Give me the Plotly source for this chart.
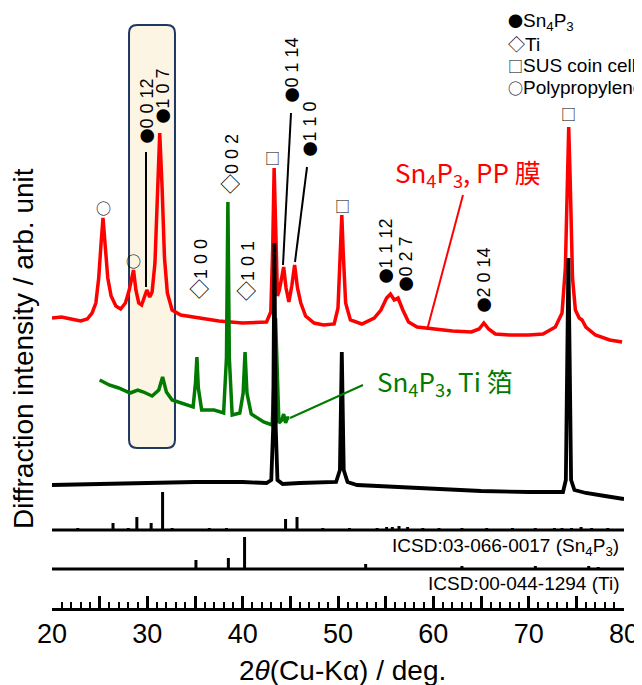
import plotly.graph_objects as go

# ---------------- data (2theta in deg, intensity in arb. unit, offsets included) -------------
red_2theta = [20.0, 21.0, 22.0, 23.0, 23.7, 24.2, 24.6, 24.9, 25.15, 25.35, 25.6, 25.85, 26.2, 26.7,
              27.2, 27.7, 28.1, 28.35, 28.55, 28.8, 29.1, 29.4, 29.7, 29.95, 30.25, 30.5, 30.8, 31.05,
              31.3, 31.55, 31.8, 32.1, 32.6, 33.5, 35.0, 37.5, 40.0, 42.5, 42.95, 43.15, 43.3, 43.45,
              43.65, 43.85, 44.1, 44.3, 44.55, 44.85, 45.15, 45.45, 45.75, 46.1, 46.6, 47.5, 48.5, 49.6,
              50.0, 50.25, 50.4, 50.55, 50.8, 51.3, 52.5, 53.8, 54.5, 55.1, 55.5, 55.9, 56.3, 56.8, 57.4,
              58.3, 60.0, 62.0, 64.0, 64.8, 65.3, 65.8, 66.5, 68.0, 70.0, 71.5, 72.8, 73.5, 73.85, 74.05,
              74.2, 74.35, 74.6, 74.9, 75.3, 75.6, 76.0, 77.0, 78.5, 79.8]
red_int = [290, 291, 289, 287, 289, 295, 305, 330, 365, 390, 360, 330, 312, 302,
           299, 305, 318, 330, 338, 318, 305, 303, 312, 318, 311, 316, 345, 420,
           475, 420, 350, 315, 298, 293, 291, 287, 285, 286, 296, 360, 440, 380,
           312, 318, 330, 341, 320, 306, 322, 343, 320, 305, 292, 285, 283, 284,
           300, 360, 393, 355, 305, 288, 284, 290, 298, 310, 314, 308, 310, 298, 286,
           281, 279, 277, 276, 279, 285, 279, 274, 273, 273, 274, 281, 295, 340, 440,
           481, 430, 330, 298, 290, 288, 281, 273, 268, 266]

green_2theta = [25.0, 26.0, 27.0, 28.2, 29.0, 29.6, 30.5, 31.2, 31.6, 32.0, 32.6, 34.0, 34.8, 35.05,
                35.2, 35.35, 35.7, 37.0, 38.0, 38.3, 38.45, 38.6, 38.9, 39.7, 40.05, 40.25, 40.45,
                40.9, 42.2, 43.1, 43.3, 43.45, 43.6, 43.8, 44.1, 44.3, 44.5, 44.7, 44.9]
green_int = [228, 223, 220, 215, 218, 216, 212, 218, 231, 216, 208, 203, 201, 225,
             251, 220, 198, 198, 195, 250, 406, 250, 193, 195, 215, 256, 215,
             194, 186, 183, 230, 290, 230, 185, 188, 194, 185, 190, 190]

black_2theta = [20.0, 25.0, 30.0, 35.0, 40.0, 42.5, 43.0, 43.2, 43.33, 43.47, 43.65, 44.2, 46.0, 49.8,
                50.2, 50.4, 50.6, 51.0, 52.0, 56.0, 60.0, 65.0, 70.0, 73.6, 73.9, 74.05, 74.17, 74.3,
                74.45, 74.8, 76.0, 78.0, 80.0]
black_int = [123, 124, 125, 126, 126, 125, 128, 180, 365, 180, 128, 124, 125, 126,
             138, 256, 138, 126, 123, 121, 119, 117, 116, 116, 128, 250, 350, 250,
             128, 118, 115, 112, 109]

sn4p3_ref_2theta = [22.7, 26.4, 28.0, 28.9, 30.4, 31.6, 32.6, 36.5, 38.3, 44.5, 45.7, 48.4, 51.2, 54.1,
                    55.1, 55.7, 56.4, 57.3, 58.9, 60.6, 63.0, 65.6, 68.3, 70.7, 72.7, 73.5, 74.5, 75.5,
                    76.6, 78.3]
sn4p3_ref_int = [2, 7, 2, 13, 7, 38, 2, 2, 2, 11, 13, 2, 2, 2,
                 3, 3, 4, 3, 2, 2, 2, 2, 2, 2, 2, 2, 2, 3,
                 2, 2]
ti_ref_2theta = [35.1, 38.5, 40.2, 52.9, 63.0, 70.7, 76.3, 77.3]
ti_ref_int = [9, 11, 32, 5, 3, 3, 3, 2]

SN4P3_BASE = 78
TI_BASE = 39

x_label_vals = [20, 30, 40, 50, 60, 70, 80]
x_mid_vals = [25, 35, 45, 55, 65, 75]

SYM_SIZE = {"●": 15, "○": 15, "□": 15, "◇": 20}


def sym(s, scale=1.0):
    return ("<span style='font-family:Noto Sans CJK JP;font-size:%dpx'>%s</span>"
            % (round(SYM_SIZE[s] * scale), s))


# peak labels: (2theta, bottom position, symbol, hkl)
peak_labels = [
    (29.86, 462, "●", "0 0 12"),
    (31.64, 483, "●", "1 0 7"),
    (35.32, 307, "◇", "1 0 0"),
    (38.57, 412, "◇", "0 0 2"),
    (40.25, 305, "◇", "1 0 1"),
    (45.07, 503, "●", "0 1 14"),
    (47.06, 450, "●", "1 1 0"),
    (54.93, 322, "●", "1 1 12"),
    (57.13, 315, "●", "0 2 7"),
    (65.21, 293, "●", "2 0 14"),
]
symbol_labels = [
    (25.45, 401, "○"), (28.50, 348, "○"),
    (43.18, 451, "□"), (50.42, 403, "□"), (74.13, 495, "□"),
]
legend_items = [("●", "Sn<sub>4</sub>P<sub>3</sub>", 1.0), ("◇", "Ti", 0.85),
                ("□", "SUS coin cell", 1.0), ("○", "Polypropylene", 1.0)]

FONT = "Liberation Sans, Arial, DejaVu Sans, sans-serif"
CJK = "Noto Sans CJK JP, sans-serif"

# 1 axis unit = 1 px: used to place annotations relative to the plot area
PLOT_H = 600


def sticks(pos, h, base):
    xs, ys = [], []
    for p, v in zip(pos, h):
        xs += [p, p, None]
        ys += [base, base + v, None]
    return xs, ys


fig = go.Figure()

fig.add_trace(go.Scatter(x=red_2theta, y=red_int, mode="lines",
                         line=dict(color="#FF0000", width=3.5), hoverinfo="skip"))
fig.add_trace(go.Scatter(x=green_2theta, y=green_int, mode="lines",
                         line=dict(color="#007A00", width=3.5), hoverinfo="skip"))
fig.add_trace(go.Scatter(x=black_2theta, y=black_int, mode="lines",
                         line=dict(color="#000000", width=3.8), hoverinfo="skip"))

sx, sy = sticks(sn4p3_ref_2theta, sn4p3_ref_int, SN4P3_BASE)
fig.add_trace(go.Scatter(x=[20, 80] + [None] + sx, y=[SN4P3_BASE, SN4P3_BASE] + [None] + sy,
                         mode="lines", line=dict(color="black", width=3), hoverinfo="skip"))
tx, ty = sticks(ti_ref_2theta, ti_ref_int, TI_BASE)
fig.add_trace(go.Scatter(x=[20, 80] + [None] + tx, y=[TI_BASE, TI_BASE] + [None] + ty,
                         mode="lines", line=dict(color="black", width=3), hoverinfo="skip"))
# carrier trace for the secondary tick axis (5-degree ticks)
fig.add_trace(go.Scatter(x=[20, 80], y=[None, None], xaxis="x2", mode="lines",
                         hoverinfo="skip", showlegend=False))

# highlighted box (rounded rectangle)
x0, x1, y0, y1 = 28.08, 32.90, 160, 583
rx, ry = 0.85, 8
path = (f"M {x0+rx},{y1} L {x1-rx},{y1} Q {x1},{y1} {x1},{y1-ry} L {x1},{y0+ry} "
        f"Q {x1},{y0} {x1-rx},{y0} L {x0+rx},{y0} Q {x0},{y0} {x0},{y0+ry} "
        f"L {x0},{y1-ry} Q {x0},{y1} {x0+rx},{y1} Z")
shapes = [dict(type="path", path=path, xref="x", yref="y", layer="below",
               fillcolor="#FDF5E4", line=dict(color="#1F3763", width=2))]

# leader lines
for (xa, ya, xb, yb, col, w) in [
    (29.86, 456, 29.86, 321, "black", 2),
    (45.07, 495, 44.23, 343, "black", 2),
    (46.75, 441, 45.49, 346, "black", 2),
    (63.11, 413, 59.34, 278, "#FF0000", 2),
    (44.97, 190, 52.62, 223, "#007A00", 2),
]:
    shapes.append(dict(type="line", xref="x", yref="y", x0=xa, y0=ya, x1=xb, y1=yb,
                       line=dict(color=col, width=w)))

annotations = []
for (x, y, s, t) in peak_labels:
    annotations.append(dict(x=x, y=y, xref="x", yref="y", text=sym(s) + t, textangle=-90,
                            showarrow=False, xanchor="center", yanchor="bottom",
                            font=dict(family=FONT, size=18, color="black")))
for (x, y, t) in symbol_labels:
    annotations.append(dict(x=x, y=y, xref="x", yref="y", text=sym(t), showarrow=False,
                            xanchor="center", yanchor="middle",
                            font=dict(family=CJK, size=15, color="black")))

# legend of symbols
for i, (s, t, sc) in enumerate(legend_items):
    annotations.append(dict(x=67.6, y=586 - i * 21.7, xref="x", yref="y", text=sym(s, sc) + t,
                            showarrow=False, xanchor="left", yanchor="middle",
                            font=dict(family=FONT, size=19, color="black")))

annotations += [
    dict(x=55.75, y=435, xref="x", yref="y", text="Sn<sub>4</sub>P<sub>3</sub>, PP 膜",
         showarrow=False, xanchor="left", yanchor="middle",
         font=dict(family=CJK, size=26, color="#FF0000")),
    dict(x=53.85, y=226, xref="x", yref="y", text="Sn<sub>4</sub>P<sub>3</sub>, Ti 箔",
         showarrow=False, xanchor="left", yanchor="middle",
         font=dict(family=CJK, size=26, color="#007A00")),
    dict(x=79.7, y=61, xref="x", yref="y", text="ICSD:03-066-0017 (Sn<sub>4</sub>P<sub>3</sub>)",
         showarrow=False, xanchor="right", yanchor="middle",
         font=dict(family=FONT, size=19, color="black")),
    dict(x=79.7, y=25, xref="x", yref="y", text="ICSD:00-044-1294 (Ti)",
         showarrow=False, xanchor="right", yanchor="middle",
         font=dict(family=FONT, size=19, color="black")),
    dict(x=-29 / 572, y=259 / PLOT_H, xref="paper", yref="paper",
         text="Diffraction intensity / arb. unit",
         textangle=-90, showarrow=False, xanchor="center", yanchor="middle",
         font=dict(family=FONT, size=28, color="black")),
    dict(x=290.5 / 572, y=-62 / PLOT_H, xref="paper", yref="paper", text="2<i>θ</i>(Cu-Kα) / deg.",
         showarrow=False, xanchor="center", yanchor="middle",
         font=dict(family=FONT, size=28, color="black")),
]

# the page body adds an 8 px offset; the figure is sized to fill the rest of the window
fig.update_layout(
    width=634, height=677,
    margin=dict(l=44, r=18, t=0, b=77, autoexpand=False),
    paper_bgcolor="white", plot_bgcolor="white",
    showlegend=False,
    shapes=shapes, annotations=annotations,
    xaxis=dict(range=[20, 80], showgrid=False, zeroline=False,
               showline=True, linecolor="black", linewidth=3,
               ticks="inside", ticklen=12, tickwidth=2.5, tickcolor="black",
               tickvals=x_label_vals,
               tickfont=dict(family=FONT, size=27, color="black"),
               minor=dict(tickmode="linear", tick0=20, dtick=1, ticks="inside", ticklen=6,
                          tickwidth=2, tickcolor="black", showgrid=False),
               automargin=False, fixedrange=True),
    xaxis2=dict(range=[20, 80], overlaying="x", anchor="y", side="bottom", showgrid=False,
                zeroline=False, showline=False, showticklabels=False,
                ticks="inside", ticklen=12, tickwidth=2.5, tickcolor="black",
                tickvals=x_mid_vals, automargin=False, fixedrange=True),
    yaxis=dict(range=[0, PLOT_H], visible=False, fixedrange=True, automargin=False),
)

fig.write_html("out.html")
